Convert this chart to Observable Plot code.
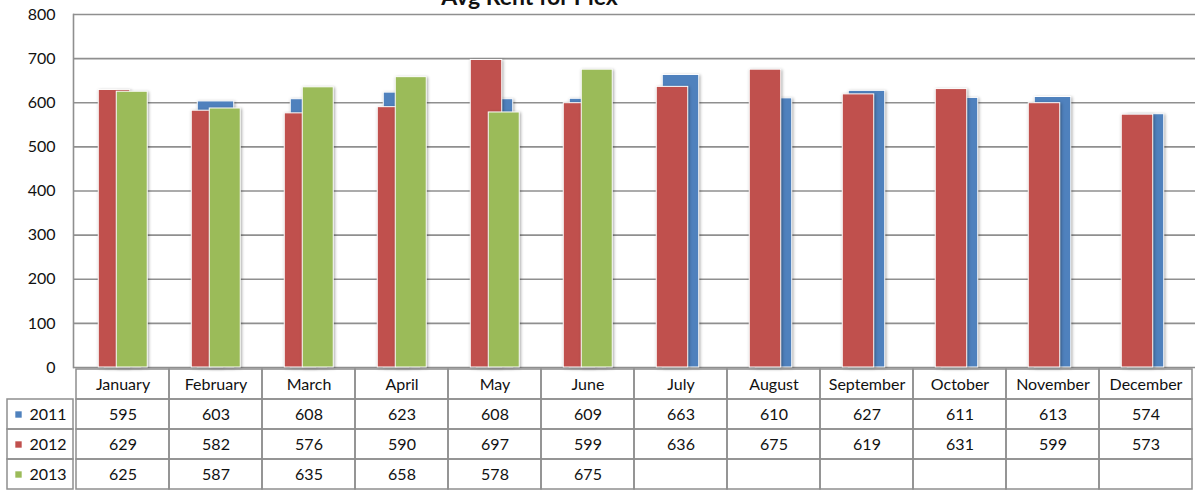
<!DOCTYPE html>
<html>
<head>
<meta charset="utf-8">
<script src="https://cdn.jsdelivr.net/npm/d3@7"></script>
<script src="https://cdn.jsdelivr.net/npm/@observablehq/plot@0.6"></script>
<style>
  html, body { margin: 0; padding: 0; background: #fff; }
  svg { overflow: visible; display: block; }
  #row { display: flex; flex-direction: row; }
  .bars g[aria-label="bar"] rect { filter: drop-shadow(1.2px 1.2px 1.4px rgba(0,0,0,0.35)); }
</style>
</head>
<body>
<div id="chart"></div>
<div id="row"></div>
<script>
const title = "Avg Rent for Plex";
const months = ["January","February","March","April","May","June","July","August","September","October","November","December"];
const seriesNames = ["2011","2012","2013"];
const values2011 = [595,603,608,623,608,609,663,610,627,611,613,574];
const values2012 = [629,582,576,590,697,599,636,675,619,631,599,573];
const values2013 = [625,587,635,658,578,675,null,null,null,null,null,null];
const seriesColors = ["#4f81bd","#c0504d","#9bbb59"];
const yTicks = [0,100,200,300,400,500,600,700,800];
const headerRow = "Month";

const seriesValues = [values2011, values2012, values2013];
const rows = seriesNames.flatMap((s, si) => months.map((m, mi) => ({series: s, month: m, value: seriesValues[si][mi]})));

const W = 1196, mL = 73, mR = 1;
const bw = (W - mL - mR) / months.length;
// bar geometry relative to band center: [left offset, right offset]
const geom = {"2011": [-18.5, 18.5], "2012": [-24.5, 7.5], "2013": [-6.5, 25]};
const font = {fontFamily: "Lato, 'Open Sans', sans-serif", fontSize: "16px", color: "#111", background: "transparent"};
const gridColor = "#8f8f8f";

const barMarks = seriesNames.map((s, i) => Plot.barY(rows.filter(d => d.series === s && d.value != null), {
  x: "month", y: "value", fill: seriesColors[i], stroke: "#fff", strokeWidth: 1,
  insetLeft: bw / 2 + geom[s][0], insetRight: bw / 2 - geom[s][1]
}));

const chart = Plot.plot({
  className: "bars",
  width: W, height: 368, marginTop: 14, marginBottom: 1, marginLeft: mL, marginRight: mR,
  style: font,
  x: {type: "band", domain: months, padding: 0, axis: null},
  y: {domain: [0, 800], axis: null},
  marks: [
    Plot.ruleY(yTicks, {stroke: gridColor, strokeWidth: 1.6}),
    Plot.frame({anchor: "left", stroke: gridColor, strokeWidth: 1.6}),
    Plot.axisY({ticks: yTicks, tickSize: 0, tickPadding: 18, fontSize: 16, label: null}),
    ...barMarks,
    Plot.text([title], {frameAnchor: "top-left", dx: 529 - mL, dy: -9.5, lineAnchor: "bottom", textAnchor: "middle", fontWeight: "bold", fontSize: 23})
  ]
});
document.getElementById("chart").append(chart);

const tableRows = [headerRow, ...seriesNames];
const tblH = 123;

const legendCol = Plot.plot({
  width: mL, height: tblH, marginLeft: 7, marginRight: 0, marginTop: 0, marginBottom: 2,
  style: font,
  x: {type: "band", domain: ["key"], padding: 0, axis: null},
  y: {type: "band", domain: tableRows, padding: 0, axis: null},
  marks: [
    Plot.cell(seriesNames, {x: () => "key", y: d => d, fill: "none", stroke: gridColor, strokeWidth: 1.5, inset: 0}),
    Plot.dot(seriesNames, {x: () => "key", y: d => d, symbol: "square", r: 3.6, fill: d => seriesColors[seriesNames.indexOf(d)], dx: -22}),
    Plot.text(seriesNames, {x: () => "key", y: d => d, text: d => d, textAnchor: "start", dx: -11, fontSize: 16, fill: "#111"})
  ]
});

const table = Plot.plot({
  width: W - mL, height: tblH, marginLeft: 0, marginRight: mR, marginTop: 0, marginBottom: 2,
  style: font,
  x: {type: "band", domain: months, padding: 0, axis: null},
  y: {type: "band", domain: tableRows, padding: 0, axis: null},
  marks: [
    Plot.cell(months, {x: d => d, y: () => headerRow, fill: "none", stroke: gridColor, strokeWidth: 1.5, inset: 0}),
    Plot.cell(rows, {x: "month", y: "series", fill: "none", stroke: gridColor, strokeWidth: 1.5, inset: 0}),
    Plot.text(months, {x: d => d, y: () => headerRow, text: d => d, fontSize: 16, fill: "#111"}),
    Plot.text(rows.filter(d => d.value != null), {x: "month", y: "series", text: d => String(d.value), fontSize: 16, fill: "#111"})
  ]
});
const row = document.getElementById("row");
row.append(legendCol, table);
</script>
</body>
</html>
